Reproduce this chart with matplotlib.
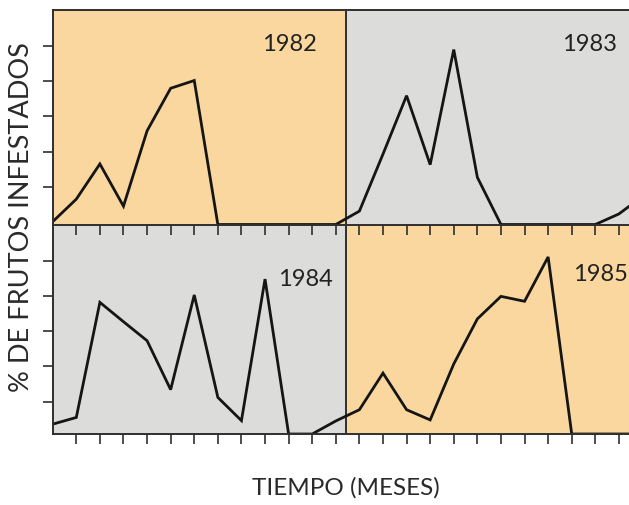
import matplotlib
matplotlib.use("Agg")
import matplotlib.pyplot as plt

# ---- data (month index along a continuous time axis, % infested in tick units) ----
meses_82 = list(range(0, 13))
pct_1982 = [0.08, 0.72, 1.72, 0.52, 2.66, 3.87, 4.09, 0, 0, 0, 0, 0, 0]
meses_83 = list(range(13, 26))
pct_1983 = [0.38, 2.0, 3.66, 1.70, 4.97, 1.34, 0, 0, 0, 0, 0, 0.3, 0.8]
meses_84 = list(range(0, 13))
pct_1984 = [0.28, 0.47, 3.74, 3.19, 2.65, 1.26, 3.95, 1.04, 0.38, 4.40, 0, 0, 0.37]
meses_85 = list(range(13, 26))
pct_1985 = [0.69, 1.73, 0.69, 0.40, 1.99, 3.27, 3.91, 3.77, 5.03, 0, 0, 0, 0]

anios = ["1982", "1983", "1984", "1985"]
xticks = list(range(1, 26))

ORANGE = "#F9D79E"
GRAY = "#DCDCDA"
EDGE = "#2f2f2f"
LINE = "#151515"

plt.rcParams['font.family'] = ['Lato', 'DejaVu Sans']

W, H = 629, 506
fig = plt.figure(figsize=(W / 100, H / 100), dpi=100)

x0 = 52.7
pxu = 23.74
right_px = 642.5
xmax = (right_px - x0) / pxu
split = (347.5 - x0) / pxu

def make_row(top_px, bot_px, xs, ys, colors, yticks, z):
    ax = fig.add_axes([x0 / W, 1 - bot_px / H, (right_px - x0) / W, (bot_px - top_px) / H], zorder=z)
    ymax = (bot_px - top_px) / 35.2
    ax.set_xlim(0, xmax)
    ax.set_ylim(0, ymax)
    ax.axvspan(0, split, color=colors[0], lw=0, zorder=0)
    ax.axvspan(split, xmax, color=colors[1], lw=0, zorder=0)
    ax.axvline(split, color=EDGE, lw=1.4, zorder=1)
    ax.plot(xs, ys, color=LINE, lw=2.0, solid_joinstyle='miter', zorder=3)
    ax.set_xticks(xticks)
    ax.set_yticks(yticks)
    ax.tick_params(axis='both', direction='out', length=7, width=1.2, color=EDGE,
                   labelbottom=False, labelleft=False)
    for s in ax.spines.values():
        s.set_color(EDGE)
        s.set_linewidth(1.4)
        s.set_zorder(4)
    return ax

ax_top = make_row(10.7, 225.5, meses_82 + meses_83, pct_1982 + pct_1983,
                  (ORANGE, GRAY), [1.06, 2.07, 3.07, 4.07, 5.06], 3)
ax_bot = make_row(225.5, 435, meses_84 + meses_85, pct_1984 + pct_1985,
                  (GRAY, ORANGE), [0.90, 1.92, 2.92, 3.91, 4.91], 2)

tkw = dict(fontsize=17, color="#222222", va='center')
ax_top.text(11.18, 5.13, anios[0], ha='right', **tkw)
ax_top.text(23.9, 5.13, anios[1], ha='right', **tkw)
ax_bot.text(11.89, 4.42, anios[2], ha='right', **tkw)
ax_bot.text(22.04, 4.57, anios[3], ha='left', **tkw)

fig.text(22 / W, 1 - 217 / H, "% DE FRUTOS INFESTADOS", rotation=90,
         ha='center', va='center', fontsize=19.5, color="#2a2a2a")
fig.text(346 / W, 1 - 488 / H, "TIEMPO (MESES)", ha='center', va='center',
         fontsize=17.5, color="#2a2a2a")

fig.savefig("out.png", dpi=100)
